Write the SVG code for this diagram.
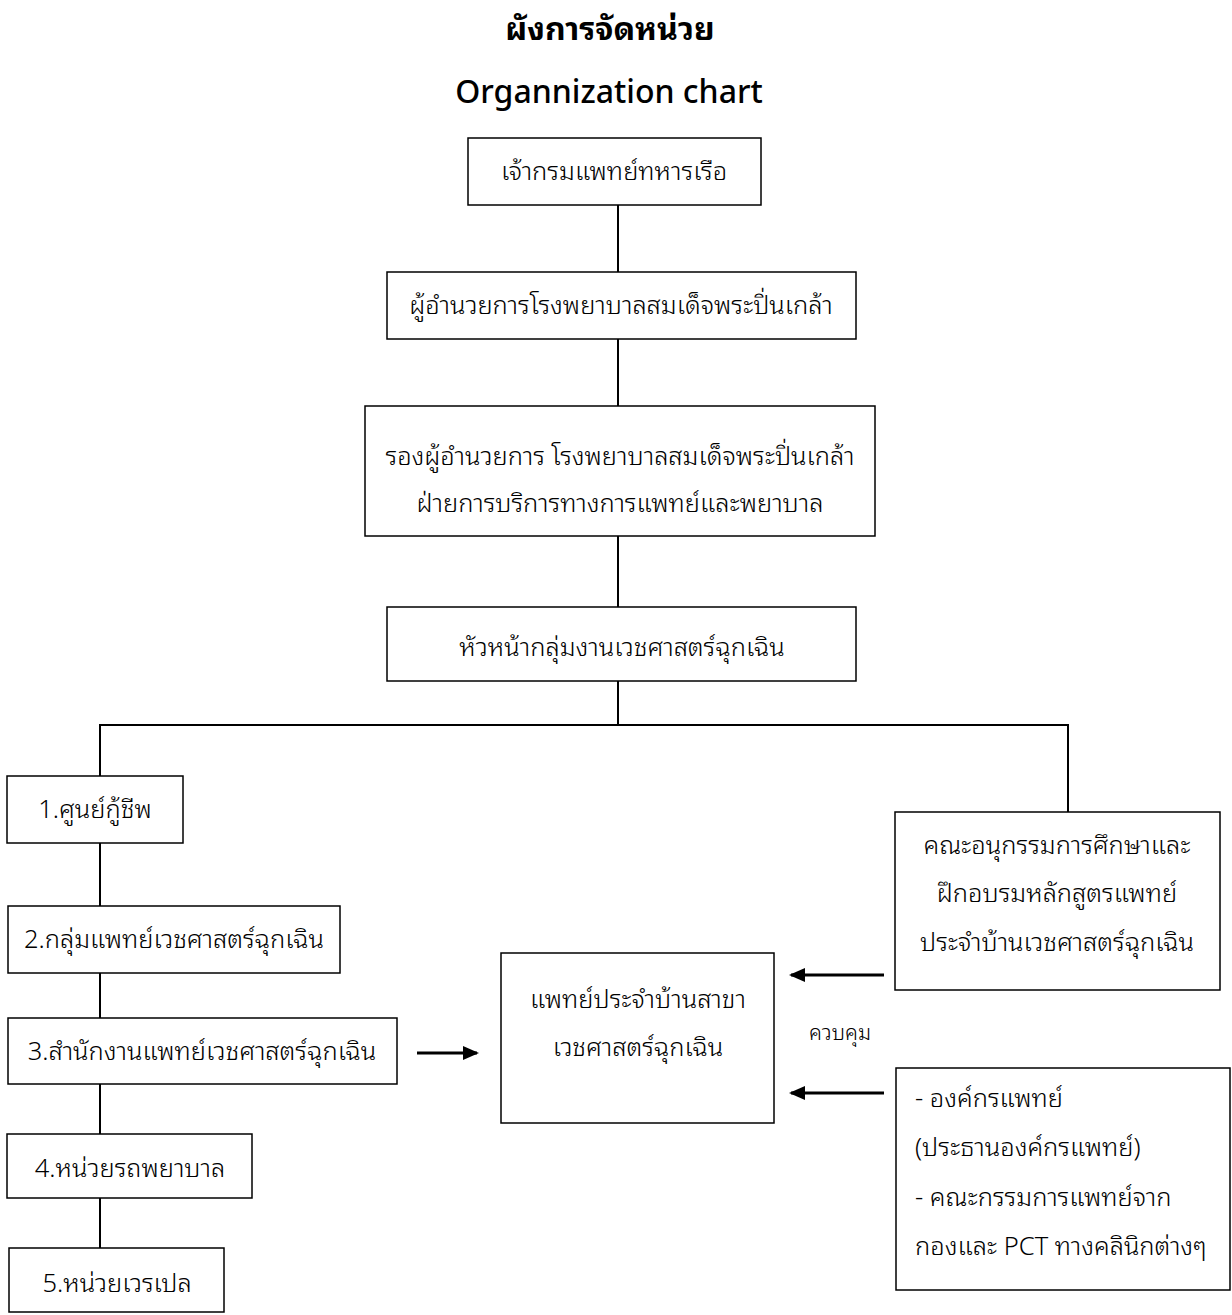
<svg xmlns="http://www.w3.org/2000/svg" width="1232" height="1315" viewBox="0 0 1232 1315">
<defs>
<style>
text{font-family:"Noto Sans","Noto Sans Thai Looped","Waree","Loma","Garuda","Noto Sans Thai",sans-serif;fill:#000;}
.t{font-size:25.5px;font-weight:300;text-anchor:middle;}
.l{font-size:25.5px;font-weight:300;}
.s{font-size:21px;font-weight:300;text-anchor:middle;}
.box{fill:#fff;stroke:#000;stroke-width:1.5;}
.ln{fill:none;stroke:#000;stroke-width:2;}
.ar{fill:none;stroke:#000;stroke-width:3;}
</style>
<marker id="ah" viewBox="0 0 16 14" refX="14" refY="7" markerWidth="16" markerHeight="14" orient="auto" markerUnits="userSpaceOnUse">
<path d="M0,0 L16,7 L0,14 z" fill="#000"/>
</marker>
</defs>
<rect width="1232" height="1315" fill="#fff"/>
<text x="610" y="40" style="font-size:32px;font-weight:bold;text-anchor:middle;">ผังการจัดหน่วย</text>
<text x="609" y="103" style="font-size:32px;font-weight:500;text-anchor:middle;">Organnization chart</text>
<g id="connectors">
<line class="ln" x1="618" y1="205" x2="618" y2="272"/>
<line class="ln" x1="618" y1="339" x2="618" y2="406"/>
<line class="ln" x1="618" y1="536" x2="618" y2="607"/>
<line class="ln" x1="618" y1="681" x2="618" y2="725"/>
<polyline class="ln" points="100,776 100,725 1068,725 1068,812"/>
<line class="ln" x1="100" y1="843" x2="100" y2="906"/>
<line class="ln" x1="100" y1="973" x2="100" y2="1018"/>
<line class="ln" x1="100" y1="1084" x2="100" y2="1134"/>
<line class="ln" x1="100" y1="1198" x2="100" y2="1248"/>
<line class="ar" x1="417" y1="1053" x2="477" y2="1053" marker-end="url(#ah)"/>
<line class="ar" x1="884" y1="975" x2="791" y2="975" marker-end="url(#ah)"/>
<line class="ar" x1="884" y1="1093" x2="791" y2="1093" marker-end="url(#ah)"/>
<text class="s" x="840" y="1040">ควบคุม</text>
</g>
<g id="n1"><rect class="box" x="468" y="138" width="293" height="67"/><text class="t" x="614" y="180">เจ้ากรมแพทย์ทหารเรือ</text></g>
<g id="n2"><rect class="box" x="387" y="272" width="469" height="67"/><text class="t" x="621" y="314">ผู้อำนวยการโรงพยาบาลสมเด็จพระปิ่นเกล้า</text></g>
<g id="n3"><rect class="box" x="365" y="406" width="510" height="130"/><text class="t" x="620" y="465">รองผู้อำนวยการ โรงพยาบาลสมเด็จพระปิ่นเกล้า</text><text class="t" x="620" y="512">ฝ่ายการบริการทางการแพทย์และพยาบาล</text></g>
<g id="n4"><rect class="box" x="387" y="607" width="469" height="74"/><text class="t" x="622" y="656">หัวหน้ากลุ่มงานเวชศาสตร์ฉุกเฉิน</text></g>
<g id="u1"><rect class="box" x="7" y="776" width="176" height="67"/><text class="t" x="95" y="818">1.ศูนย์กู้ชีพ</text></g>
<g id="u2"><rect class="box" x="8" y="906" width="332" height="67"/><text class="t" x="174" y="948">2.กลุ่มแพทย์เวชศาสตร์ฉุกเฉิน</text></g>
<g id="u3"><rect class="box" x="8" y="1018" width="389" height="66"/><text class="t" x="202" y="1060">3.สำนักงานแพทย์เวชศาสตร์ฉุกเฉิน</text></g>
<g id="u4"><rect class="box" x="7" y="1134" width="245" height="64"/><text class="t" x="130" y="1177">4.หน่วยรถพยาบาล</text></g>
<g id="u5"><rect class="box" x="9" y="1248" width="215" height="64"/><text class="t" x="117" y="1292">5.หน่วยเวรเปล</text></g>
<g id="resident"><rect class="box" x="501" y="953" width="273" height="170"/><text class="t" x="638" y="1008">แพทย์ประจำบ้านสาขา</text><text class="t" x="638" y="1056">เวชศาสตร์ฉุกเฉิน</text></g>
<g id="committee"><rect class="box" x="895" y="812" width="325" height="178"/><text class="t" x="1057" y="854">คณะอนุกรรมการศึกษาและ</text><text class="t" x="1057" y="902">ฝึกอบรมหลักสูตรแพทย์</text><text class="t" x="1057" y="951">ประจำบ้านเวชศาสตร์ฉุกเฉิน</text></g>
<g id="medorg"><rect class="box" x="896" y="1068" width="334" height="222"/><text class="l" x="915" y="1107">- องค์กรแพทย์</text><text class="l" x="915" y="1156">(ประธานองค์กรแพทย์)</text><text class="l" x="915" y="1206">- คณะกรรมการแพทย์จาก</text><text class="l" x="915" y="1255">กองและ PCT ทางคลินิกต่างๆ</text></g>
</svg>
